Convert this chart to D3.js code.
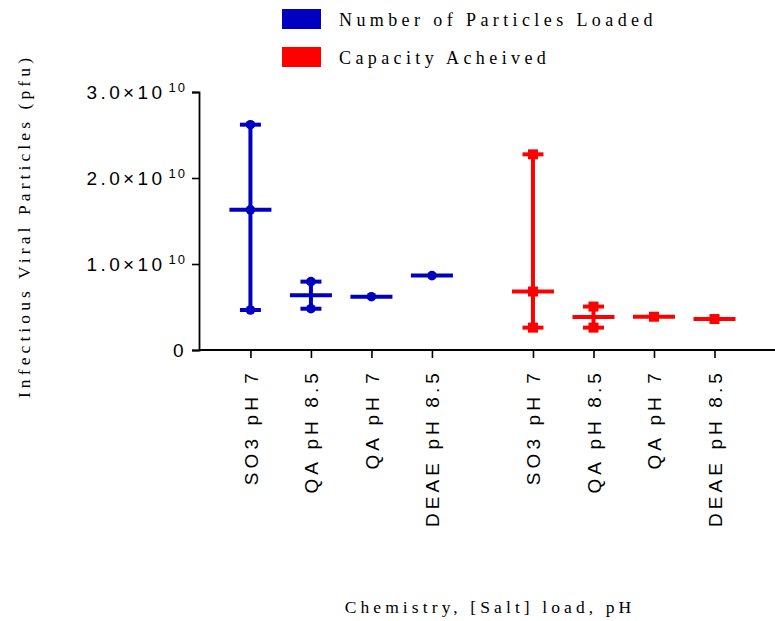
<!DOCTYPE html>
<html>
<head>
<meta charset="utf-8">
<script src="https://cdn.jsdelivr.net/npm/d3@7"></script>
<style>
  html, body { margin: 0; padding: 0; background: #fff; }
  svg { display: block; }
</style>
</head>
<body>
<svg id="chart" width="775" height="621"></svg>
<script>
// Column labels, shared by both groups
const categories = ["SO3 pH 7", "QA pH 8.5", "QA pH 7", "DEAE pH 8.5"];

// Replicate measurements (pfu) for each column
const loadedValues = [
  [2.62e10, 1.63e10, 0.465e10],
  [0.795e10, 0.48e10],
  [0.62e10],
  [0.865e10]
];
const capacityValues = [
  [2.275e10, 0.68e10, 0.26e10],
  [0.505e10, 0.26e10],
  [0.387e10],
  [0.36e10]
];

const seriesNames = ["Number of Particles Loaded", "Capacity Acheived"];
const seriesColors = ["#0000c0", "#ff0000"];
const yTickValues = [0, 1e10, 2e10, 3e10];

const svg = d3.select("#chart");
const serif = "'Liberation Serif', 'Times New Roman', serif";
const sans = "'Liberation Sans', Arial, sans-serif";

// Slot positions: four columns per group, a gap between the groups
const groupGap = 0.67;
const slots = [];
[loadedValues, capacityValues].forEach((vals, g) => {
  vals.forEach((v, i) => {
    slots.push({ series: g, cat: categories[i], values: v, pos: i + g * (categories.length + groupGap) });
  });
});

const x = d3.scaleLinear().domain([-0.85, 8.67]).range([199, 775]);
const y = d3.scaleLinear().domain([0, 3e10]).range([350, 92]);

// Y axis
const yAxis = svg.append("g").attr("transform", "translate(199,0)")
  .call(d3.axisLeft(y).tickValues(yTickValues).tickSize(7).tickFormat(""));
yAxis.select(".domain").attr("stroke", "#000").attr("stroke-width", 1.8);
yAxis.selectAll(".tick line").attr("stroke", "#000").attr("stroke-width", 1.6);

// Tick labels in a×10^b form
yAxis.selectAll(".tick").each(function(d) {
  const t = d3.select(this).append("text")
    .attr("x", -12).attr("dy", "0.36em")
    .attr("text-anchor", "end").attr("fill", "#000")
    .style("font-family", sans).style("font-size", "19px").style("letter-spacing", "3.4px");
  if (d === 0) {
    t.text("0");
  } else {
    const exp = Math.floor(Math.log10(d));
    const mant = d / Math.pow(10, exp);
    t.append("tspan").text(mant.toFixed(1) + "\u00d710");
    t.append("tspan").attr("dx", "3").attr("dy", "-0.6em").style("font-size", "13px").style("letter-spacing", "2px").text(exp);
  }
});

// X axis
const xAxis = svg.append("g").attr("transform", "translate(0,350)")
  .call(d3.axisBottom(x).tickValues(slots.map(s => s.pos)).tickSize(8).tickFormat(""));
xAxis.select(".domain").attr("stroke", "#000").attr("stroke-width", 1.8).attr("d", "M199,0H775");
xAxis.selectAll(".tick line").attr("stroke", "#000").attr("stroke-width", 1.6);
xAxis.selectAll(".tick").data(slots).append("text")
  .attr("transform", "rotate(-90)")
  .attr("x", -19).attr("y", 0).attr("dy", "0.36em")
  .attr("text-anchor", "end").attr("fill", "#000")
  .style("font-family", sans).style("font-size", "19px").style("letter-spacing", "4.1px")
  .text(d => d.cat);

// Median with range for each column
const capW = 10.5, medW = 21;
const marks = svg.append("g");
slots.forEach(s => {
  const color = seriesColors[s.series];
  const cx = x(s.pos);
  const lo = d3.min(s.values), hi = d3.max(s.values), med = d3.median(s.values);
  const g = marks.append("g").attr("stroke", color).attr("fill", color);
  if (hi > lo) {
    g.append("line").attr("x1", cx).attr("x2", cx).attr("y1", y(lo)).attr("y2", y(hi)).attr("stroke-width", 4);
    [lo, hi].forEach(v => g.append("line")
      .attr("x1", cx - capW).attr("x2", cx + capW).attr("y1", y(v)).attr("y2", y(v)).attr("stroke-width", 4));
  }
  g.append("line").attr("x1", cx - medW).attr("x2", cx + medW).attr("y1", y(med)).attr("y2", y(med)).attr("stroke-width", 4);
  s.values.forEach(v => {
    if (s.series === 0) {
      g.append("circle").attr("cx", cx).attr("cy", y(v)).attr("r", 4.8).attr("stroke", "none");
    } else {
      g.append("rect").attr("x", cx - 5).attr("y", y(v) - 5).attr("width", 10).attr("height", 10).attr("stroke", "none");
    }
  });
});

// Legend
const legend = svg.append("g");
seriesNames.forEach((name, i) => {
  legend.append("rect").attr("x", 282).attr("y", 9 + i * 38).attr("width", 39).attr("height", 20).attr("fill", seriesColors[i]);
  legend.append("text").attr("x", 339).attr("y", 26 + i * 38)
    .style("font-family", serif).style("font-size", "18px").style("letter-spacing", "4.4px")
    .attr("fill", "#000").text(name);
});

// Axis titles
svg.append("text")
  .attr("transform", "translate(30,226) rotate(-90)")
  .attr("text-anchor", "middle")
  .style("font-family", serif).style("font-size", "17.5px").style("letter-spacing", "4.1px")
  .attr("fill", "#000").text("Infectious Viral Particles (pfu)");

svg.append("text")
  .attr("x", 490).attr("y", 613).attr("text-anchor", "middle")
  .style("font-family", serif).style("font-size", "17.5px").style("letter-spacing", "4.1px")
  .attr("fill", "#000").text("Chemistry, [Salt] load, pH");
</script>
</body>
</html>
